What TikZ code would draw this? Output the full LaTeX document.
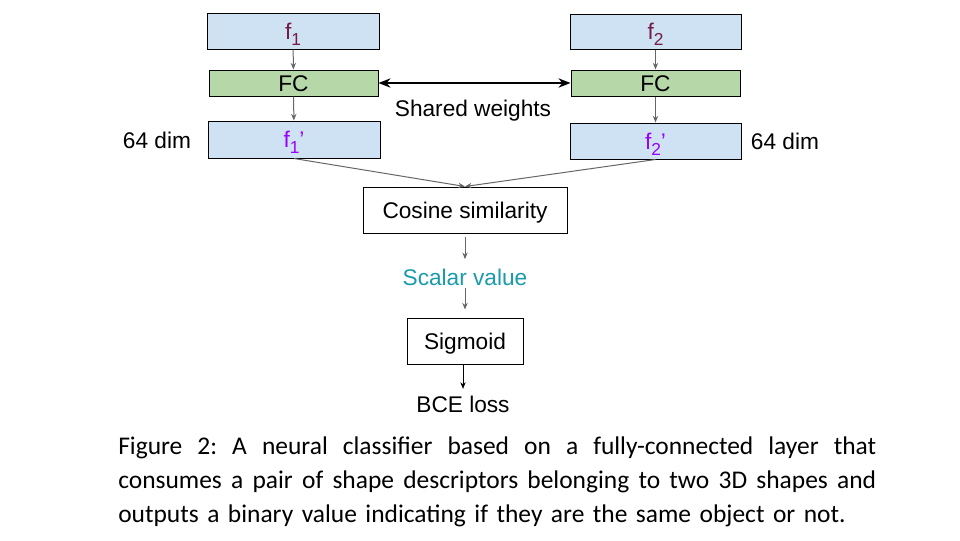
\documentclass[tikz,border=0pt]{standalone}
\usepackage{fontspec}
\setmainfont{Liberation Sans}
\newfontfamily\capfont{Carlito}
\usetikzlibrary{arrows.meta}
\definecolor{boxblue}{HTML}{CFE2F3}
\definecolor{boxgreen}{HTML}{B6D7A8}
\definecolor{fmag}{HTML}{741B47}
\definecolor{fpurple}{HTML}{9900FF}
\definecolor{scalarteal}{HTML}{1A9BAA}
\definecolor{arrgray}{HTML}{666666}
\tikzset{
  every node/.style={font=\fontsize{17}{20}\selectfont, inner sep=0pt},
  diagtext/.style={text height=12.3pt, text depth=0pt},
  featbox/.style={diagtext, draw=black, line width=0.75pt, fill=boxblue, minimum width=129pt, minimum height=27pt},
  fcbox/.style={diagtext, draw=black, line width=0.75pt, fill=boxgreen, minimum width=126.75pt, minimum height=19.5pt},
  plainbox/.style={diagtext, draw=black, line width=0.75pt, fill=white, minimum height=34.5pt},
  garrow/.style={draw=arrgray, line width=0.75pt, -{Stealth[length=5pt,width=4pt]}},
  karrow/.style={draw=black, line width=0.75pt, -{Stealth[length=5pt,width=4pt]}},
  sharedarrow/.style={draw=black, line width=1.4pt, {Stealth[length=9pt,width=7pt]}-{Stealth[length=9pt,width=7pt]}},
}
\newcommand{\subidx}[1]{\raisebox{-4.5pt}{\fontsize{13}{13}\selectfont #1}}
\newcommand{\fullline}[1]{\leavevmode\hbox to 568.5pt{\spaceskip=\fontdimen2\font plus 1fil\relax\xspaceskip=\spaceskip #1}}
\begin{document}
\begin{tikzpicture}[x=0.75pt, y=-0.75pt]
\useasboundingbox (0,0) rectangle (960,540);
% left column
\node[featbox] (f1) at (293,31) {\textcolor{fmag}{f\subidx{1}}};
\node[fcbox] (fc1) at (293.5,83) {FC};
\node[featbox, minimum height=27.75pt] (f1p) at (294,139.5) {\textcolor{fpurple}{f\subidx{1}’}};
% right column
\node[featbox, minimum width=128.25pt, minimum height=26.25pt] (f2) at (655.5,31.5) {\textcolor{fmag}{f\subidx{2}}};
\node[fcbox] (fc2) at (655.5,83) {FC};
\node[featbox, minimum width=128.25pt] (f2p) at (655.5,141) {\textcolor{fpurple}{f\subidx{2}’}};
% labels
\node[diagtext] (dimL) at (157,140) {64 dim};
\node[diagtext] (dimR) at (785,141) {64 dim};
\node[diagtext] (shared) at (473,108) {Shared weights};
% lower chain
\node[plainbox, minimum width=153pt] (cos) at (465,210) {Cosine similarity};
\node[diagtext] (scalar) at (465,277) {\textcolor{scalarteal}{Scalar value}};
\node[plainbox, minimum width=87pt] (sig) at (465,341) {Sigmoid};
\node[diagtext] (bce) at (463,404) {BCE loss};
% connectors
\draw[garrow] (f1) -- (fc1);
\draw[garrow] (fc1) -- (f1p);
\draw[garrow] (f2) -- (fc2);
\draw[garrow] (fc2) -- (f2p);
\draw[sharedarrow] (fc1) -- (fc2);
\draw[garrow] (f1p.south) -- (cos.north);
\draw[garrow] (f2p.south) -- (cos.north);
\draw[garrow, shorten <=2.25pt, shorten >=7pt] (cos.south) -- (scalar.north);
\draw[garrow, shorten <=2pt, shorten >=6pt] (scalar.south) -- (sig.north);
\draw[karrow, shorten >=5pt] (sig.south -| bce.north) -- (bce.north);
% caption
\node[anchor=north west, text width=568.5pt, align=left, font=\capfont\fontsize{19.1}{25.5}\selectfont] (caption) at (118,437)
{\fullline{Figure 2: A neural classifier based on a fully-connected layer that}\\
\fullline{consumes a pair of shape descriptors belonging to two 3D shapes and}\\
outputs a binary value indicating if they are the same object or not.};
\end{tikzpicture}
\end{document}
